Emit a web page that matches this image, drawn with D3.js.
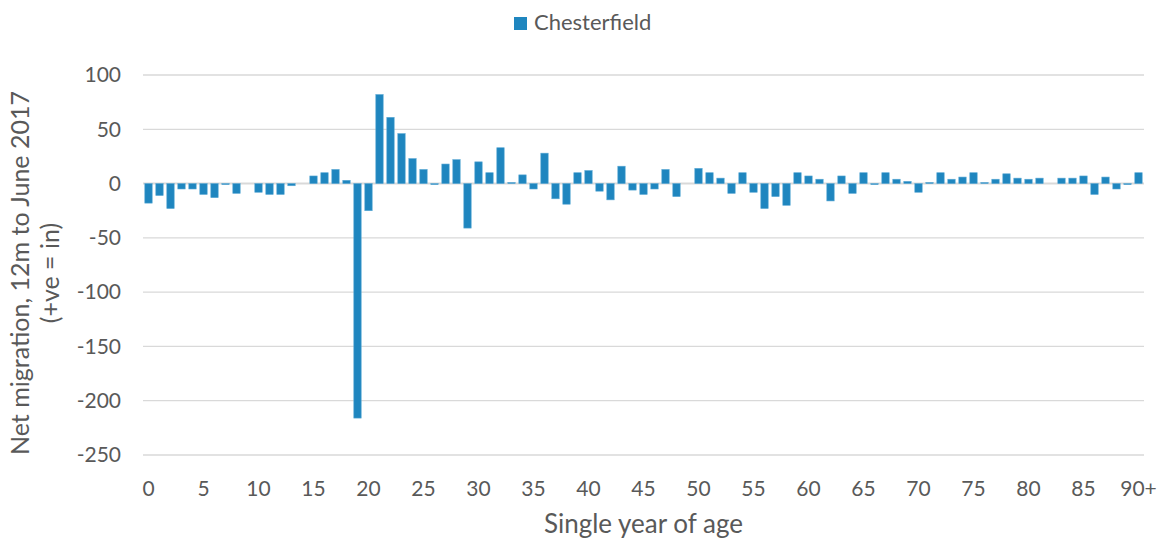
<!DOCTYPE html>
<html>
<head>
<meta charset="utf-8">
<title>Net migration by single year of age</title>
<style>
  body { margin: 0; background: #fff; }
  svg text { font-family: Lato, "Open Sans", sans-serif; fill: #595959; }
</style>
</head>
<body>
<script src="https://cdn.jsdelivr.net/npm/d3@7"></script>
<script>
// ages 0..89 plus 90+
var ages = d3.range(0, 90).map(String).concat(["90+"]);

// net migration, 12m to June 2017
var netMigration = [
  -18, -11, -23, -5, -5, -10, -13, -1, -9, 0,
  -8, -10, -10, -2, 0, 7, 10, 13, 3, -216,
  -25, 82, 61, 46, 23, 13, -1, 18, 22, -41,
  20, 10, 33, 1, 8, -5, 28, -14, -19, 10,
  12, -7, -15, 16, -6, -10, -5, 13, -12, 0,
  14, 10, 5, -9, 10, -8, -23, -12, -20, 10,
  7, 4, -16, 7, -9, 10, -1, 10, 4, 2,
  -8, 1, 10, 4, 6, 10, 1, 4, 9, 5,
  4, 5, 0, 5, 5, 7, -10, 6, -5, -1,
  10
];

var yTicks = [-250, -200, -150, -100, -50, 0, 50, 100];
var seriesName = "Chesterfield";
var barColor = "#1f86bf";

var W = 1162, H = 538;
var margin = {top: 75, right: 18, bottom: 83, left: 143};

var svg = d3.select("body").append("svg")
  .attr("width", W)
  .attr("height", H);

var x = d3.scaleBand()
  .domain(ages)
  .range([margin.left, W - margin.right])
  .paddingInner(0.33)
  .paddingOuter(0.165);

var y = d3.scaleLinear()
  .domain([-250, 100])
  .range([H - margin.bottom, margin.top]);

// gridlines
svg.append("g")
  .selectAll("line")
  .data(yTicks)
  .enter()
  .append("line")
  .attr("x1", margin.left)
  .attr("x2", W - margin.right)
  .attr("y1", function(d){ return y(d); })
  .attr("y2", function(d){ return y(d); })
  .attr("stroke", "#d9d9d9")
  .attr("stroke-width", function(d){ return d === 0 ? 2 : 1.3; });

// y tick labels (plain hyphen, as in the original)
var yAxis = svg.append("g")
  .attr("transform", "translate(" + (margin.left - 10) + ",0)")
  .call(d3.axisLeft(y).tickValues(yTicks).tickSize(0).tickPadding(12)
    .tickFormat(function(d){ return String(d); }));
yAxis.select(".domain").remove();
yAxis.selectAll("text")
  .style("font-size", "21px")
  .attr("fill", "#595959");

// bars
svg.append("g")
  .selectAll("rect")
  .data(netMigration)
  .enter()
  .append("rect")
  .attr("x", function(d, i){ return x(ages[i]); })
  .attr("width", x.bandwidth())
  .attr("y", function(d){ return y(Math.max(0, d)); })
  .attr("height", function(d){ return Math.abs(y(d) - y(0)); })
  .attr("fill", barColor)
  .attr("stroke", "#5aa8d4")
  .attr("stroke-width", 0.6);

// x tick labels, every 5 years
var xAxis = svg.append("g")
  .attr("transform", "translate(0," + (H - margin.bottom) + ")")
  .call(d3.axisBottom(x)
    .tickValues(ages.filter(function(d, i){ return i % 5 === 0 || d === "90+"; }))
    .tickSize(0)
    .tickPadding(26));
xAxis.select(".domain").remove();
xAxis.selectAll("text")
  .style("font-size", "21px")
  .attr("fill", "#595959");

// axis titles
svg.append("text")
  .attr("x", (margin.left + W - margin.right) / 2)
  .attr("y", 533)
  .attr("text-anchor", "middle")
  .style("font-size", "26px")
  .text("Single year of age");

var yTitle = svg.append("text")
  .attr("transform", "translate(29," + 273 + ") rotate(-90)")
  .attr("text-anchor", "middle")
  .style("font-size", "25px");
yTitle.append("tspan").attr("x", 0).attr("dy", 0).text("Net migration, 12m to June 2017");
yTitle.append("tspan").attr("x", 0).attr("dy", 30).text("(+ve = in)");

// legend
var legend = svg.append("g").attr("transform", "translate(514,17)");
legend.append("rect")
  .attr("width", 13)
  .attr("height", 13)
  .attr("fill", barColor);
legend.append("text")
  .attr("x", 20)
  .attr("y", 13)
  .style("font-size", "22px")
  .text(seriesName);
</script>
</body>
</html>
